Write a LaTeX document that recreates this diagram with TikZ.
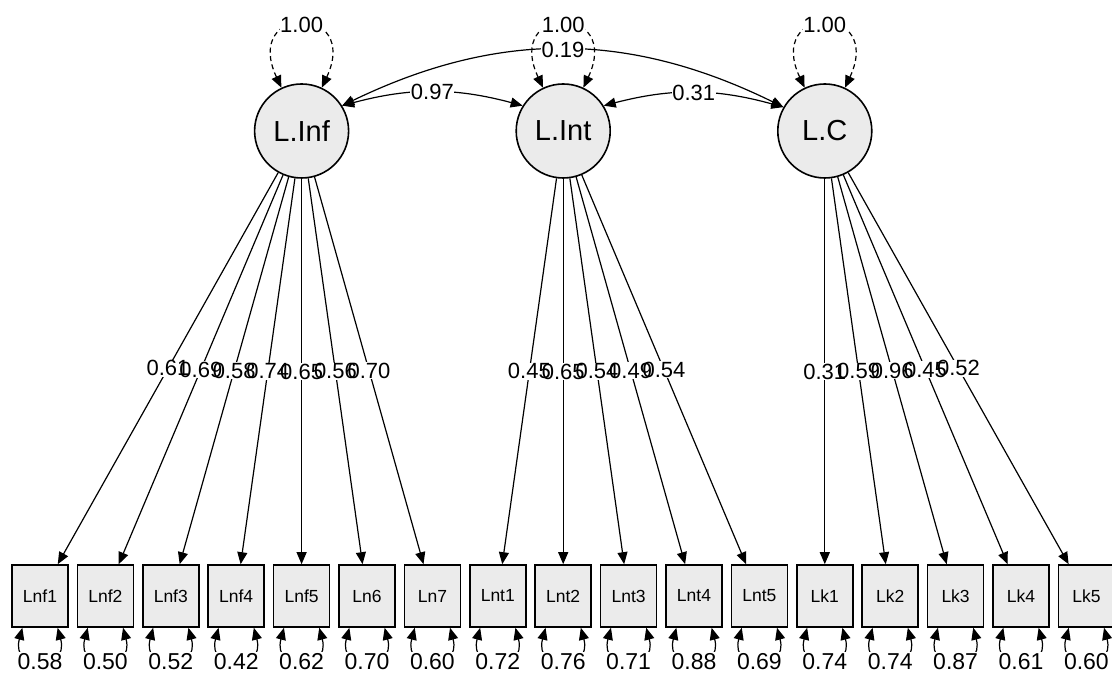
\documentclass[tikz,border=0pt]{standalone}
\usepackage{fontspec}
\setmainfont{Liberation Sans}
\usetikzlibrary{arrows.meta,positioning}
\definecolor{nodefill}{RGB}{235,235,235}

\gdef\loadlist{LInf/Lnf1/0.61, LInf/Lnf2/0.69, LInf/Lnf3/0.58, LInf/Lnf4/0.74, LInf/Lnf5/0.65, LInf/Ln6/0.56, LInf/Ln7/0.70,
  LInt/Lnt1/0.45, LInt/Lnt2/0.65, LInt/Lnt3/0.54, LInt/Lnt4/0.49, LInt/Lnt5/0.54,
  LC/Lk1/0.31, LC/Lk2/0.59, LC/Lk3/0.96, LC/Lk4/0.45, LC/Lk5/0.52}

\begin{document}
\begin{tikzpicture}[x=1pt, y=1pt, node distance=65.4pt, line width=1.2pt,
  >={Triangle[length=12pt,width=10pt]},
  latent/.style={draw, circle, fill=nodefill, line width=1.6pt, minimum size=94pt, inner sep=0pt, font=\fontsize{29}{29}\selectfont},
  manifest/.style={draw, rectangle, fill=nodefill, line width=1.6pt, minimum width=56pt, minimum height=62pt, inner sep=0pt, font=\fontsize{17.5}{17.5}\selectfont},
  lbl/.style={fill=white, inner sep=0.5pt, font=\fontsize{22}{22}\selectfont},
  lblbox/.style={lbl},
  lbltext/.style={inner sep=0.5pt, font=\fontsize{22}{22}\selectfont},
  reslbl/.style={fill=white, inner sep=0.5pt, font=\fontsize{23}{23}\selectfont},
  load/.style={->},
  cov/.style={<->},
  vari/.style={<->, dash pattern=on 5pt off 3.5pt, out=115, in=65, min distance=93pt, max distance=93pt},
  resid/.style={<->, out=-105, in=-75, min distance=46pt, max distance=46pt}]

\useasboundingbox (0,0) rectangle (1112,674);

\node[manifest] (Lnf1) at (40,78) {Lnf1};
\node[manifest] (Lnf2) [right of=Lnf1] {Lnf2};
\node[manifest] (Lnf3) [right of=Lnf2] {Lnf3};
\node[manifest] (Lnf4) [right of=Lnf3] {Lnf4};
\node[manifest] (Lnf5) [right of=Lnf4] {Lnf5};
\node[manifest] (Ln6) [right of=Lnf5] {Ln6};
\node[manifest] (Ln7) [right of=Ln6] {Ln7};
\node[manifest] (Lnt1) [right of=Ln7] {Lnt1};
\node[manifest] (Lnt2) [right of=Lnt1] {Lnt2};
\node[manifest] (Lnt3) [right of=Lnt2] {Lnt3};
\node[manifest] (Lnt4) [right of=Lnt3] {Lnt4};
\node[manifest] (Lnt5) [right of=Lnt4] {Lnt5};
\node[manifest] (Lk1) [right of=Lnt5] {Lk1};
\node[manifest] (Lk2) [right of=Lk1] {Lk2};
\node[manifest] (Lk3) [right of=Lk2] {Lk3};
\node[manifest] (Lk4) [right of=Lk3] {Lk4};
\node[manifest] (Lk5) [right of=Lk4] {Lk5};

\node[latent] (LInf) [node distance=465pt, above of=Lnf5] {L.Inf};
\node[latent] (LInt) [node distance=465pt, above of=Lnt2] {L.Int};
\node[latent] (LC) [node distance=465pt, above of=Lk1] {L.C};

\foreach \lat/\obs/\val in \loadlist
  \path[load] (\lat) edge node[lblbox] {\phantom{\val}} (\obs);
\foreach \lat/\obs/\val in \loadlist
  \path (\lat) edge[draw=none] node[lbltext] {\val} (\obs);

\path[nodes=lbl]
	(LInf) 	edge[vari] node {1.00} (LInf)
	(LInt) 	edge[vari] node {1.00} (LInt)
	(LC) 	edge[vari] node {1.00} (LC)
	(LInf.32) 	edge[cov, bend left=15] node {0.97} (LInt.148)
	(LInt.32) 	edge[cov, bend left=15] node {0.31} (LC.150)
	(LInf.32) 	edge[cov, bend left=26] node {0.19} (LC.150)
	;

\path[nodes=reslbl]
	(Lnf1.-119) 	edge[resid] node {0.58} (Lnf1.-61)
	(Lnf2.-119) 	edge[resid] node {0.50} (Lnf2.-61)
	(Lnf3.-119) 	edge[resid] node {0.52} (Lnf3.-61)
	(Lnf4.-119) 	edge[resid] node {0.42} (Lnf4.-61)
	(Lnf5.-119) 	edge[resid] node {0.62} (Lnf5.-61)
	(Ln6.-119) 	edge[resid] node {0.70} (Ln6.-61)
	(Ln7.-119) 	edge[resid] node {0.60} (Ln7.-61)
	(Lnt1.-119) 	edge[resid] node {0.72} (Lnt1.-61)
	(Lnt2.-119) 	edge[resid] node {0.76} (Lnt2.-61)
	(Lnt3.-119) 	edge[resid] node {0.71} (Lnt3.-61)
	(Lnt4.-119) 	edge[resid] node {0.88} (Lnt4.-61)
	(Lnt5.-119) 	edge[resid] node {0.69} (Lnt5.-61)
	(Lk1.-119) 	edge[resid] node {0.74} (Lk1.-61)
	(Lk2.-119) 	edge[resid] node {0.74} (Lk2.-61)
	(Lk3.-119) 	edge[resid] node {0.87} (Lk3.-61)
	(Lk4.-119) 	edge[resid] node {0.61} (Lk4.-61)
	(Lk5.-119) 	edge[resid] node {0.60} (Lk5.-61)
	;

\end{tikzpicture}
\end{document}
